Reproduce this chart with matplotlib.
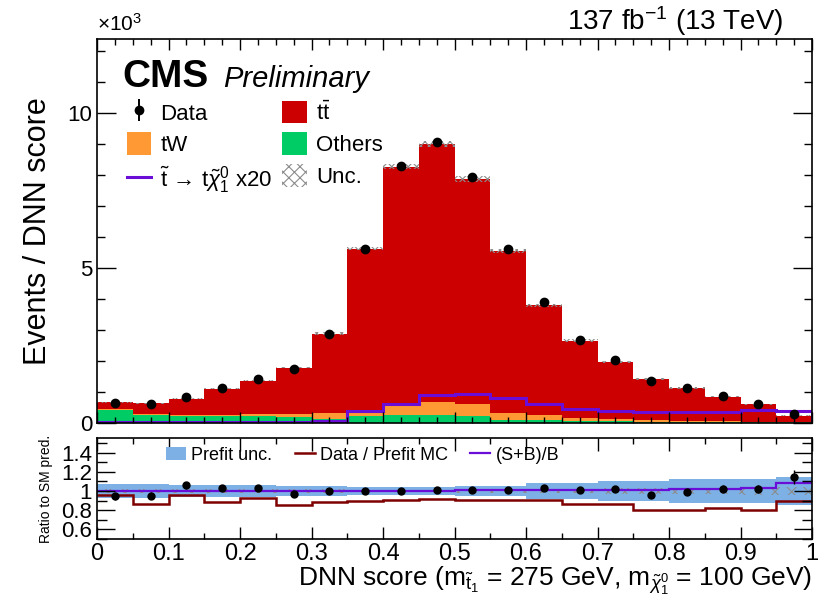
import numpy as np
import matplotlib
matplotlib.use("Agg")
import matplotlib.pyplot as plt
from matplotlib.ticker import MultipleLocator, FixedLocator
from matplotlib.patches import Patch
from matplotlib.lines import Line2D

plt.rcParams['font.family'] = ['Liberation Sans', 'DejaVu Sans']
plt.rcParams['mathtext.fontset'] = 'custom'
plt.rcParams['mathtext.rm'] = 'Liberation Sans'
plt.rcParams['mathtext.it'] = 'Liberation Sans:italic'
plt.rcParams['mathtext.bf'] = 'Liberation Sans:bold'
plt.rcParams['hatch.color'] = '#8c8c8c'
plt.rcParams['hatch.linewidth'] = 0.8

# 20 bins in DNN score
edges = np.round(np.arange(0, 1.0001, 0.05), 2)

# events per bin
data = np.array([633, 600, 836, 1140, 1405, 1730, 2880, 5630, 8310, 9060,
                 7930, 5610, 3910, 2690, 2020, 1370, 1120, 870, 620, 275])
ttbar = np.array([210, 330, 520, 840, 1060, 1500, 2570, 5200, 7650, 8335,
                  7290, 5210, 3530, 2490, 1850, 1330, 1060, 800, 570, 210])
tw = np.array([30, 50, 50, 50, 80, 90, 190, 200, 370, 425,
               380, 220, 180, 110, 70, 60, 40, 30, 20, 10])
others = np.array([430, 250, 220, 220, 220, 200, 130, 230, 250, 250,
                   220, 110, 90, 60, 50, 40, 30, 20, 20, 20])
# signal scaled x20
signal_x20 = np.array([20, 20, 20, 20, 20, 30, 60, 400, 620, 890,
                       945, 820, 620, 460, 390, 350, 350, 350, 410, 390])

# relative post-fit uncertainty of the stack
post_unc = np.array([0.012, 0.012, 0.012, 0.012, 0.012, 0.012, 0.012, 0.010, 0.010, 0.010,
                     0.012, 0.012, 0.015, 0.015, 0.018, 0.018, 0.020, 0.020, 0.025, 0.030])
# relative prefit uncertainty (ratio band)
prefit_unc = np.array([0.069, 0.069, 0.060, 0.060, 0.060, 0.057, 0.057, 0.043, 0.043, 0.043,
                       0.053, 0.053, 0.080, 0.080, 0.105, 0.105, 0.120, 0.120, 0.130, 0.150])
# data / prefit MC
prefit_ratio = np.array([0.953, 0.867, 0.960, 0.885, 0.926, 0.857, 0.885, 0.898, 0.909, 0.916,
                         0.909, 0.902, 0.902, 0.867, 0.867, 0.798, 0.805, 0.822, 0.805, 0.898])

c_tt = '#cc0000'
c_tw = '#ff9933'
c_oth = '#00cc66'
c_sig = '#6a0dd6'
c_band = '#7db1e6'
c_pre = '#7f0000'

total = ttbar + tw + others
k = 1000.0

fig = plt.figure(figsize=(8.27, 6.0), dpi=100)
ax = fig.add_axes([0.1173, 0.295, 0.8646, 0.640])
rax = fig.add_axes([0.1173, 0.1017, 0.8646, 0.168])

# stacked backgrounds
ax.stairs(others / k, edges, baseline=0, fill=True, color=c_oth, lw=0)
ax.stairs((others + tw) / k, edges, baseline=others / k, fill=True, color=c_tw, lw=0)
ax.stairs(total / k, edges, baseline=(others + tw) / k, fill=True, color=c_tt, lw=0)
ax.stairs(total * (1 + post_unc) / k, edges, baseline=total * (1 - post_unc) / k,
          fill=True, facecolor='none', edgecolor='#8c8c8c', hatch='xxxx', lw=0)
ax.stairs(signal_x20 / k, edges, baseline=0, color=c_sig, lw=2.2)

centers = 0.5 * (edges[:-1] + edges[1:])
ax.errorbar(centers, data / k, yerr=np.sqrt(data) / k, fmt='o', color='black',
            markersize=6, elinewidth=1.2, capsize=0)

ax.set_xlim(0, 1)
ax.set_ylim(0, 12.4)
ax.xaxis.set_major_locator(MultipleLocator(0.1))
ax.xaxis.set_minor_locator(MultipleLocator(0.025))
ax.yaxis.set_major_locator(FixedLocator([0, 5, 10]))
ax.yaxis.set_minor_locator(MultipleLocator(1))
ax.set_yticklabels(['0', '5', '10'])
ax.tick_params(which='both', direction='in', top=True, right=True,
               labelbottom=False, labelsize=16, width=1)
ax.tick_params(axis='x', which='major', length=8)
ax.tick_params(axis='x', which='minor', length=4)
ax.tick_params(axis='y', which='major', length=14)
ax.tick_params(axis='y', which='minor', length=6)
ax.set_ylabel('Events / DNN score', fontsize=22, labelpad=10)
for s in ax.spines.values():
    s.set_linewidth(1.2)

fig.text(0.117, 0.948, r'$\times$10$^3$', fontsize=15, ha='left', va='baseline')
fig.text(0.947, 0.950, r'137 fb$^{-1}$ (13 TeV)', fontsize=20, ha='right', va='baseline')
ax.text(0.036, 0.875, 'CMS', transform=ax.transAxes, fontsize=28,
        fontweight='bold', ha='left', va='baseline')
ax.text(0.176, 0.875, 'Preliminary', transform=ax.transAxes, fontsize=21,
        style='italic', ha='left', va='baseline')

data_handle = (Line2D([], [], color='black', marker='|', markersize=16, mew=1.4, linestyle='none'),
               Line2D([], [], color='black', marker='o', markersize=6, linestyle='none'))
handles = [
    data_handle,
    Patch(facecolor=c_tw),
    Line2D([], [], color=c_sig, lw=2.2),
    Patch(facecolor=c_tt),
    Patch(facecolor=c_oth),
    Patch(facecolor='white', edgecolor='#8c8c8c', hatch='xxx', lw=0),
]
labels = ['Data', 'tW', r'$\tilde{\rm t}$ → t$\tilde{\chi}^0_1$ x20',
          r't$\bar{\rm t}$', 'Others', 'Unc.']
ax.legend(handles, labels, ncol=2, loc='upper left', bbox_to_anchor=(0.020, 0.88),
          frameon=False, fontsize=16, handlelength=1.1, handleheight=1.2,
          handletextpad=0.4, labelspacing=0.35, columnspacing=0.45, borderpad=0.2)

# ratio panel
ratio = data / total
sb_b = (total + signal_x20 / 20.0) / total
rax.stairs(1 + prefit_unc, edges, baseline=1 - prefit_unc, fill=True, color=c_band, lw=0)
rax.stairs(1 + 1.5 * post_unc, edges, baseline=1 - 1.5 * post_unc, fill=True,
           facecolor='none', edgecolor='#8c8c8c', hatch='xx', lw=0)
rax.stairs(prefit_ratio, edges, baseline=None, color=c_pre, lw=1.8)
rax.stairs(sb_b, edges, baseline=None, color=c_sig, lw=1.6)
rax.errorbar(centers, ratio, yerr=np.sqrt(data) / total, fmt='o', color='black',
             markersize=5, elinewidth=1, capsize=0)

rax.set_xlim(0, 1)
rax.set_ylim(0.5, 1.55)
rax.xaxis.set_major_locator(MultipleLocator(0.1))
rax.xaxis.set_minor_locator(MultipleLocator(0.05))
rax.yaxis.set_major_locator(FixedLocator([0.6, 0.8, 1.0, 1.2, 1.4]))
rax.yaxis.set_minor_locator(MultipleLocator(0.1))
rax.set_yticklabels(['0.6', '0.8', '1', '1.2', '1.4'])
rax.xaxis.set_major_formatter(plt.FuncFormatter(lambda v, p: '%g' % round(v, 2)))
rax.tick_params(which='both', direction='in', top=True, right=True, labelsize=17, width=1)
rax.tick_params(axis='x', which='major', length=9, pad=3)
rax.tick_params(axis='x', which='minor', length=4)
rax.tick_params(axis='y', which='major', length=13, labelsize=16)
rax.tick_params(axis='y', which='minor', length=7)
rax.set_ylabel('Ratio to SM pred.', fontsize=10, labelpad=6)
for s in rax.spines.values():
    s.set_linewidth(1.2)

rhandles = [Patch(facecolor=c_band), Line2D([], [], color=c_pre, lw=1.8),
            Line2D([], [], color=c_sig, lw=1.6)]
rax.legend(rhandles, ['Prefit unc.', 'Data / Prefit MC', '(S+B)/B'], ncol=3,
           loc='upper left', bbox_to_anchor=(0.076, 1.06), frameon=False, fontsize=13,
           handlelength=1.1, handletextpad=0.3, columnspacing=1.25, borderpad=0.3)

fig.text(0.982, 0.023,
         r'DNN score (m$_{\tilde{\rm t}_1}$ = 275 GeV, m$_{\tilde{\chi}^0_1}$ = 100 GeV)',
         fontsize=19, ha='right', va='baseline')

fig.savefig('out.png', dpi=100)
